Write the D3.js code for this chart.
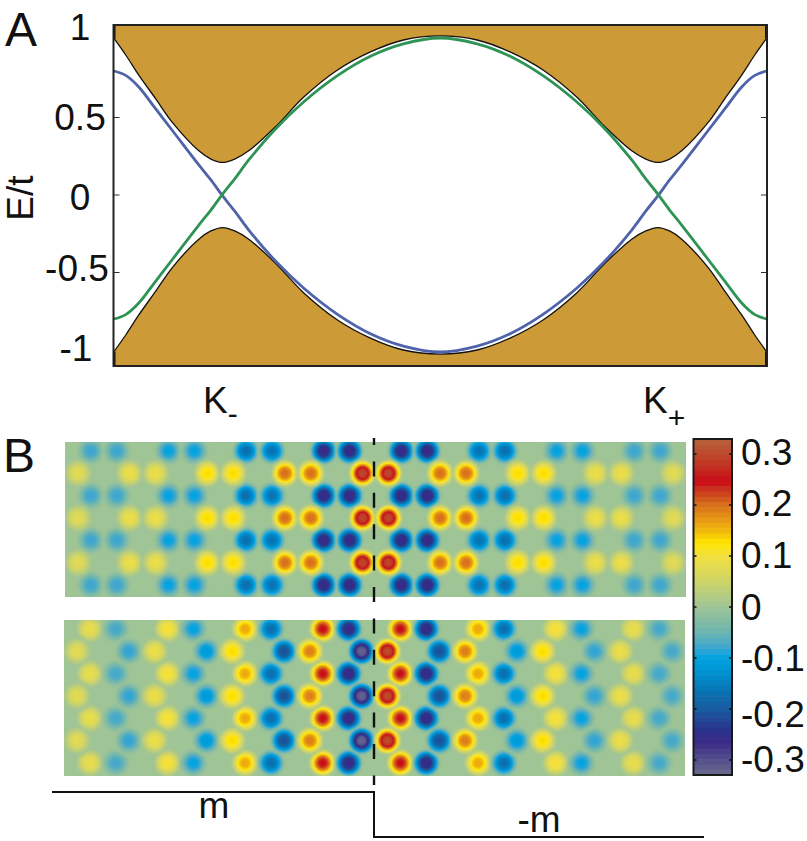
<!DOCTYPE html>
<html><head><meta charset="utf-8">
<script src="https://cdn.jsdelivr.net/npm/d3@7"></script>
<style>
html,body{margin:0;padding:0;background:#fff}
svg{display:block}
text{font-family:"Liberation Sans",Arial,sans-serif;fill:#111}
</style></head><body>
<svg id="c" width="807" height="841"></svg>
<script>
// ---------- Panel A data ----------
const kLeft = [-1,-.963,-.924,-.872,-.82,-.74,-.703,-.667,-.63,-.587,-.505,-.419,-.315,-.214,-.113,0];
const bandUpper = [1.01,.90,.774,.62,.465,.285,.232,.21,.232,.285,.44,.63,.806,.923,1.00,1.026];
const bandLower = [-1.01,-.90,-.774,-.62,-.465,-.285,-.232,-.21,-.232,-.285,-.44,-.63,-.806,-.923,-1.00,-1.026];
const blueEdge = [.80,.77,.697,.555,.413,.194,.097,-.006,-.104,-.226,-.426,-.60,-.77,-.895,-.975,-1.013];
const greenEdge = [-.80,-.77,-.697,-.555,-.413,-.194,-.097,.006,.104,.226,.426,.60,.77,.895,.975,1.013];
const energyTicks = [1,.5,0,-.5,-1];
const energyLabels = ["1","0.5","0","-0.5","-1"];

// ---------- Panel B data (lattice site index, value per site) ----------
const topSitesA = [1,2,4,5,7,8,10,11,13,14,16,17,19,20,22,23];
const topValuesA = [-.08,-.08,-.10,-.10,-.17,-.165,-.265,-.265,-.265,-.265,-.165,-.17,-.10,-.10,-.08,-.08];
const topSitesB = [.5,2.5,3.5,5.5,6.5,8.5,9.5,11.5,12.5,14.5,15.5,17.5,18.5,20.5,21.5,23.5];
const topValuesB = [.075,.09,.09,.13,.13,.2,.2,.295,.295,.2,.2,.13,.13,.09,.09,.075];
const botSitesA = [1,2,4,5,7,8,10,11,13,14,16,17,19,20,22,23];
const botValuesA = [.085,-.075,.105,-.10,.16,-.17,.245,-.265,.245,-.265,.16,-.17,.105,-.10,.085,-.075];
const botSitesB = [.5,2.5,3.5,5.5,6.5,8.5,9.5,11.5,12.5,14.5,15.5,17.5,18.5,20.5,21.5,23.5];
const botValuesB = [.075,-.085,.09,-.115,.13,-.21,.19,-.32,.3,-.21,.19,-.115,.13,-.085,.09,-.075];
const rowsA = [0,2,4,6];
const rowsB = [1,3,5];

// ---------- Colour map ----------
const cmapValues = [-.33,-.3,-.265,-.24,-.2,-.17,-.13,-.1,-.08,-.05,0,.05,.1,.125,.15,.17,.2,.23,.245,.27,.3,.33];
const cmapColors = ["#6a6a8c","#55508c","#3a2a88","#28348c","#185ca0","#0a70b0","#0090d0","#00a4e0","#3ea6d0","#6db5b0","#9fc496","#cfd468","#f2e040","#ffe600","#f0b80c","#e89a14","#d8701c","#c8341c","#cc0a18","#c22a1e","#bd4a2c","#b5623c"];
const barTicks = [.3,.2,.1,0,-.1,-.2,-.3];
const barLabels = ["0.3","0.2","0.1","0","-0.1","-0.2","-0.3"];
const cmap = d3.scaleLinear().domain(cmapValues).range(cmapColors).interpolate(d3.interpolateRgb).clamp(true);

const svg = d3.select("#c");
const defs = svg.append("defs");

// ---------- Panel A ----------
const frame = {l:113.5,r:767,t:25,b:366};
const kScale = d3.scaleLinear().domain([-1,1]).range([frame.l+0.5,frame.r-0.5]);
const eScale = d3.scaleLinear().domain([-1,1]).range([350,40]);
function full(vals){
  const left = kLeft.map((k,i)=>({k,v:vals[i]}));
  const right = kLeft.slice(0,-1).reverse().map((k,i,a)=>({k:-k,v:vals[a.length-1-i]}));
  return left.concat(right);
}
const curve = d3.curveCatmullRom.alpha(0.5);
defs.append("clipPath").attr("id","clipA").append("rect")
  .attr("x",frame.l).attr("y",frame.t).attr("width",frame.r-frame.l).attr("height",frame.b-frame.t);
const gA = svg.append("g").attr("clip-path","url(#clipA)");
const brown = "#cc9a36";
gA.append("path").datum(full(bandUpper))
  .attr("d",d3.area().curve(curve).x(d=>kScale(d.k)).y1(d=>eScale(d.v)).y0(frame.t-4))
  .attr("fill",brown);
gA.append("path").datum(full(bandLower))
  .attr("d",d3.area().curve(curve).x(d=>kScale(d.k)).y1(d=>eScale(d.v)).y0(frame.b+4))
  .attr("fill",brown);
const lineGen = d3.line().curve(curve).x(d=>kScale(d.k)).y(d=>eScale(d.v));
[bandUpper,bandLower].forEach(b=>gA.append("path").datum(full(b)).attr("d",lineGen)
  .attr("fill","none").attr("stroke","#111").attr("stroke-width",1.3));
gA.append("path").datum(full(blueEdge)).attr("d",lineGen).attr("fill","none").attr("stroke","#4f63ab").attr("stroke-width",2.8);
gA.append("path").datum(full(greenEdge)).attr("d",lineGen).attr("fill","none").attr("stroke","#2e9455").attr("stroke-width",2.8);
// end caps of the band fill
const capSpans = [[frame.t,eScale(1.01)],[eScale(-1.01),frame.b]];
[frame.l,frame.r-2].forEach(x=>{
  gA.append("g").selectAll("rect").data(capSpans).join("rect")
    .attr("x",x).attr("width",2).attr("y",d=>d[0]).attr("height",d=>d[1]-d[0]).attr("fill","#111");
});

// axis ticks
const tickVals = energyTicks.slice(1,-1);
[[frame.l,1],[frame.r,-1]].forEach(([x,s])=>{
  svg.append("g").selectAll("line").data(tickVals).join("line")
    .attr("x1",x).attr("x2",x+s*6).attr("y1",d=>eScale(d)).attr("y2",d=>eScale(d))
    .attr("stroke","#333").attr("stroke-width",1);
});
svg.append("rect").attr("x",frame.l).attr("y",frame.t).attr("width",frame.r-frame.l).attr("height",frame.b-frame.t)
  .attr("fill","none").attr("stroke","#222").attr("stroke-width",2);

const fs = 37;
const labelNudge = {x:[80,80,80,77,76], y:[-13,0,2,-4,-2]};
svg.append("g").selectAll("text").data(energyTicks).join("text")
  .attr("x",(d,i)=>labelNudge.x[i]).attr("y",(d,i)=>eScale(d)+labelNudge.y[i])
  .attr("dy","0.35em").attr("text-anchor","middle").attr("font-size",fs)
  .text((d,i)=>energyLabels[i]);
svg.append("text").attr("transform","translate(33,198) rotate(-90)").attr("text-anchor","middle")
  .attr("font-size",fs).text("E/t");
svg.append("text").attr("x",5).attr("y",46).attr("font-size",48).text("A");
svg.append("text").attr("x",3).attr("y",472).attr("font-size",48).text("B");
const kLab = svg.append("text").attr("x",203).attr("y",413).attr("font-size",fs);
kLab.append("tspan").text("K");
kLab.append("tspan").attr("font-size",30).attr("dy",11).text("-");
const kLab2 = svg.append("text").attr("x",643).attr("y",413).attr("font-size",fs);
kLab2.append("tspan").text("K");
kLab2.append("tspan").attr("font-size",30).attr("dy",15).text("+");

// ---------- Panel B ----------
const spotScale = 10.5, R = 17;
function gradFor(v){
  const id = "g"+String(v).replace("-","m").replace(".","_");
  if(!defs.select("#"+id).empty()) return id;
  const g = defs.append("radialGradient").attr("id",id);
  d3.range(0,25).forEach(i=>{
    const t = i/24, r = t*R;
    const fall = Math.exp(-Math.pow(r/spotScale,3));
    g.append("stop").attr("offset",t)
      .attr("stop-color",cmap(v*fall))
      .attr("stop-opacity",t===1?0:Math.min(1,fall*5));
  });
  return id;
}
function drawMap(name,box,y0,rowStep,sets){
  const x = d3.scaleLinear().domain([0,24]).range([box.x,box.x+box.w]);
  const y = d3.scaleLinear().domain([0,6]).range([y0,y0+rowStep*6]);
  defs.append("clipPath").attr("id",name).append("rect")
    .attr("x",box.x).attr("y",box.y).attr("width",box.w).attr("height",box.h);
  const g = svg.append("g").attr("clip-path",`url(#${name})`);
  g.append("rect").attr("x",box.x).attr("y",box.y).attr("width",box.w).attr("height",box.h).attr("fill",cmap(0));
  sets.forEach(([rows,sites,vals])=>{
    rows.forEach(row=>{
      g.append("g").selectAll("circle").data(sites).join("circle")
        .attr("cx",d=>x(d)).attr("cy",y(row)).attr("r",R)
        .attr("fill",(d,i)=>`url(#${gradFor(vals[i])})`);
    });
  });
}
drawMap("mapT",{x:65,y:442,w:621,h:155},451,22.33,[[rowsA,topSitesA,topValuesA],[rowsB,topSitesB,topValuesB]]);
drawMap("mapB",{x:64,y:620,w:621,h:156},629,22.33,[[rowsA,botSitesA,botValuesA],[rowsB,botSitesB,botValuesB]]);

// dashed interface
svg.append("line").attr("x1",374).attr("x2",374).attr("y1",438).attr("y2",785)
  .attr("stroke","#111").attr("stroke-width",2.4)
  .attr("stroke-dasharray","15 16.4").attr("stroke-dashoffset",8);

// mass profile
const massX = d3.scaleLinear().domain([-1,0,1]).range([52,374,704]);
const massY = d3.scaleLinear().domain([-1,1]).range([837,792]);
const massSteps = [[-1,1],[0,1],[0,-1],[1,-1]];
svg.append("path").attr("d",d3.line().x(d=>massX(d[0])).y(d=>massY(d[1]))(massSteps))
  .attr("fill","none").attr("stroke","#111").attr("stroke-width",2);
svg.append("text").attr("x",214).attr("y",818).attr("text-anchor","middle").attr("font-size",fs).text("m");
svg.append("text").attr("x",539).attr("y",832).attr("text-anchor","middle").attr("font-size",fs).text("-m");

// colour bar
const bar = {l:693.5,r:732,t:439,b:775};
const barY = d3.scaleLinear().domain([0,.3]).range([607,454]);
const levels = 64;
const vTop = barY.invert(bar.t), vBot = barY.invert(bar.b);
const lev = d3.range(levels);
svg.append("g").selectAll("rect").data(lev).join("rect")
  .attr("x",bar.l).attr("width",bar.r-bar.l)
  .attr("y",d=>bar.t+(bar.b-bar.t)*d/levels).attr("height",(bar.b-bar.t)/levels+0.6)
  .attr("fill",d=>cmap(vTop+(vBot-vTop)*(d+.5)/levels));
[[bar.l,1],[bar.r,-1]].forEach(([x,s])=>{
  svg.append("g").selectAll("line").data(barTicks).join("line")
    .attr("x1",x).attr("x2",x+s*3).attr("y1",d=>barY(d)).attr("y2",d=>barY(d))
    .attr("stroke","#111").attr("stroke-width",1.5);
});
svg.append("rect").attr("x",bar.l).attr("y",bar.t).attr("width",bar.r-bar.l).attr("height",bar.b-bar.t)
  .attr("fill","none").attr("stroke","#1a1a1a").attr("stroke-width",2);
const barNudge = [-2,-2,-1,0,0,5,-1];
svg.append("g").selectAll("text").data(barTicks).join("text")
  .attr("x",741).attr("y",(d,i)=>barY(d)+barNudge[i]).attr("dy","0.35em")
  .attr("font-size",fs).text((d,i)=>barLabels[i]);
</script>
</body></html>
